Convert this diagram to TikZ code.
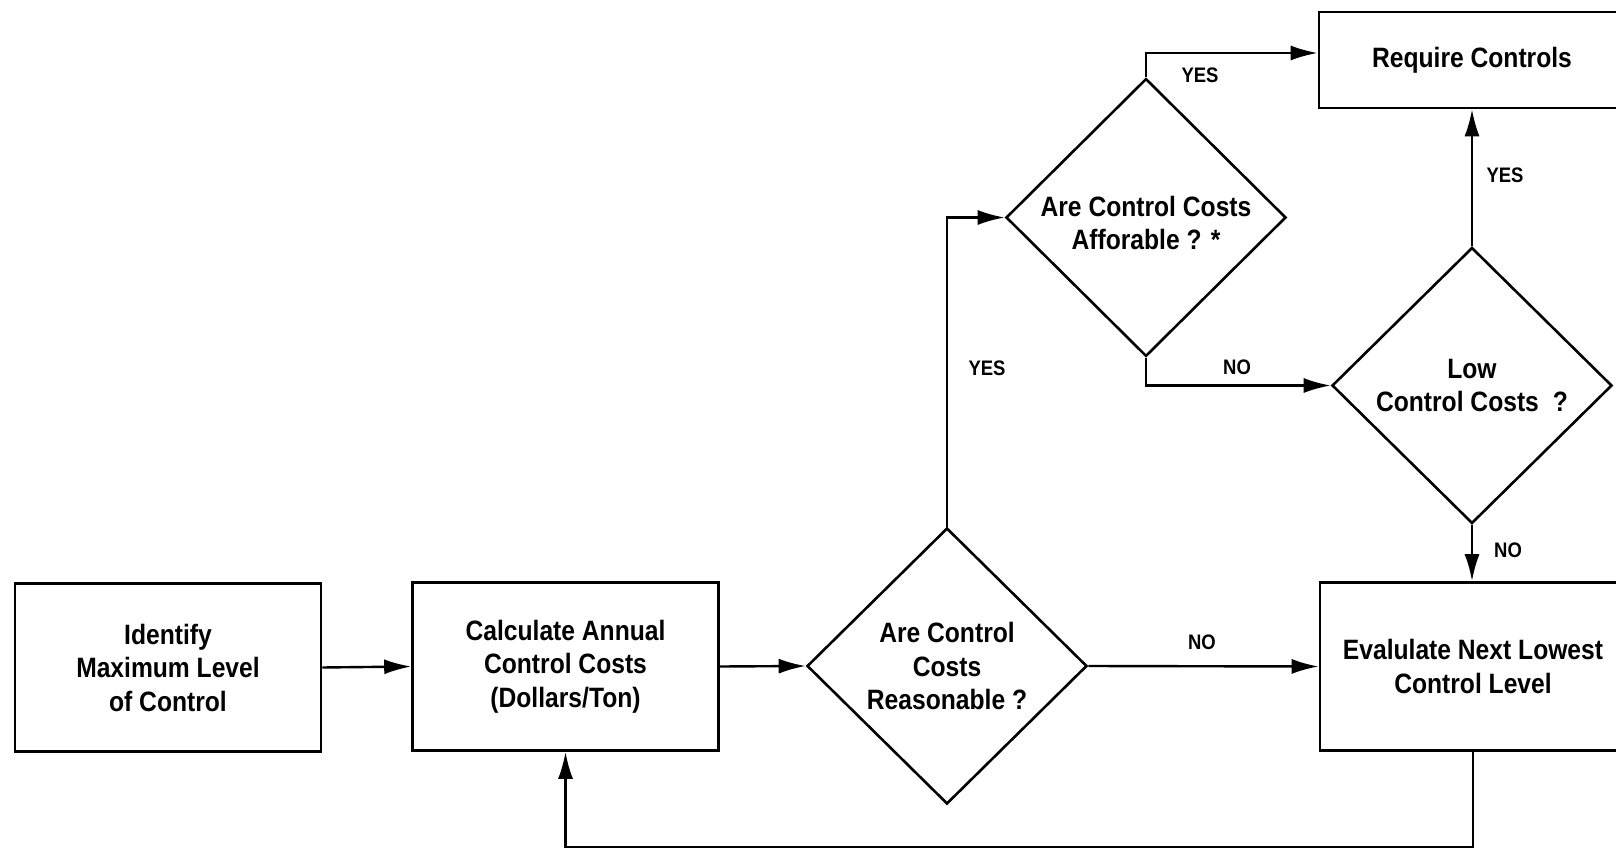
\documentclass[tikz,border=0pt]{standalone}
\usepackage{fontspec}
\setmainfont[FakeStretch=0.88]{Liberation Sans}
\usetikzlibrary{shapes.geometric,arrows.meta}
\begin{document}
\begin{tikzpicture}[x=1pt,y=-1pt,
  txt/.style={font=\bfseries\fontsize{28}{33.5}\selectfont,align=center},
  box/.style={txt,draw,line width=2.6pt,minimum width=306pt,minimum height=168pt,inner sep=0pt},
  dec/.style={txt,draw,diamond,line width=2.6pt,minimum width=280pt,minimum height=276pt,inner sep=0pt},
  conn/.style={line width=2.4pt},
  arr/.style={conn,-{Latex[length=27pt,width=15pt]}},
  lbl/.style={font=\bfseries\fontsize{21}{24}\selectfont,inner sep=0pt}]
\useasboundingbox (0,0) rectangle (1616,850);
\fill[white] (0,0) rectangle (1616,850);
% nodes
\node[box] (id) at (168,667.5) {Identify\\Maximum Level\\of Control};
\node[box] (calc) at (565.5,666.5) {Calculate Annual\\Control Costs\\(Dollars/Ton)};
\node[dec] (reas) at (947,666) {Are Control\\Costs\\Reasonable ?};
\node[box] (eval) at (1473,666.5) {Evalulate Next Lowest\\Control Level};
\node[dec] (aff) at (1146,217.5) {\raisebox{-9pt}[\height][\depth]{\begin{tabular}{@{}c@{}}Are Control Costs\\Afforable ? *\end{tabular}}};
\node[dec] (low) at (1472,385.5) {Low\\Control Costs\hspace{0.5em}?};
\node[box,minimum height=96pt] (req) at (1472,60) {Require Controls};
% helper coordinates
\coordinate (yt) at (1146,53);
\coordinate (lb) at (1473,847);
% connectors
\draw[arr] (id.east) -- (calc.west);
\draw[arr] (calc.east) -- (reas.west);
\draw[arr] (reas.east) -- (eval.west);
\draw[arr] (reas.north) |- (aff.west);
\draw[arr] (aff.north) -- (yt) -- (req.west |- yt);
\draw[arr] (aff.south) |- (low.west);
\draw[arr] (low.north) -- (low.north |- req.south);
\draw[arr] (low.south) -- (low.south |- eval.north);
\draw[arr] (eval.south) -- (eval.south |- lb) -| (calc.south);
% labels
\node[lbl] (l1) at (1200,75) {YES};
\node[lbl] (l2) at (987,368) {YES};
\node[lbl] (l3) at (1237,367) {NO};
\node[lbl] (l4) at (1505,175) {YES};
\node[lbl] (l5) at (1508,550) {NO};
\node[lbl] (l6) at (1202,642) {NO};
\end{tikzpicture}
\end{document}
